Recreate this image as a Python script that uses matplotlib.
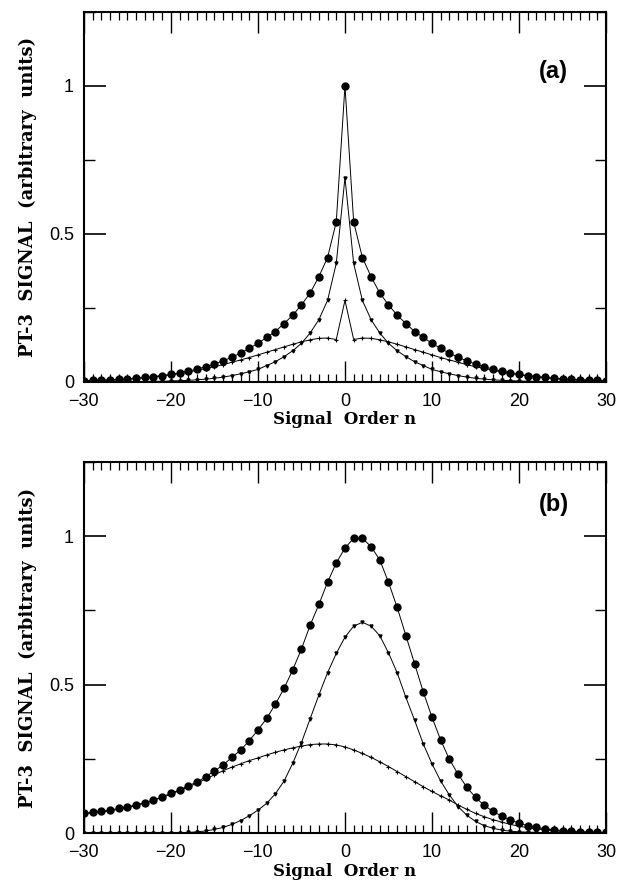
import matplotlib
matplotlib.use('Agg')
import matplotlib.pyplot as plt
import numpy as np
from matplotlib.ticker import MultipleLocator

# signal order axis
n = np.arange(-30, 31)

# --- panel (a): symmetric curves, values read for n = 0..30 ---
a_circ_half = [1.0, 0.54, 0.42, 0.355, 0.30, 0.26, 0.225, 0.197, 0.17, 0.15, 0.13,
               0.113, 0.097, 0.083, 0.071, 0.06, 0.051, 0.043, 0.036, 0.030, 0.025,
               0.021, 0.018, 0.015, 0.012, 0.010, 0.008, 0.007, 0.006, 0.005, 0.004]
a_mid_half = [0.69, 0.40, 0.275, 0.21, 0.165, 0.13, 0.105, 0.085, 0.068, 0.055, 0.042,
              0.034, 0.027, 0.021, 0.016, 0.012, 0.009, 0.007, 0.005, 0.004, 0.003,
              0.002, 0.002, 0.001, 0.001, 0.001, 0.001, 0.0, 0.0, 0.0, 0.0]
a_low_half = [0.275, 0.143, 0.148, 0.147, 0.142, 0.135, 0.127, 0.118, 0.109, 0.100, 0.091,
              0.082, 0.074, 0.066, 0.058, 0.051, 0.045, 0.039, 0.033, 0.028, 0.024,
              0.020, 0.017, 0.014, 0.011, 0.009, 0.007, 0.006, 0.005, 0.004, 0.003]

a_circ = a_circ_half[:0:-1] + a_circ_half
a_mid = a_mid_half[:0:-1] + a_mid_half
a_low = a_low_half[:0:-1] + a_low_half

# --- panel (b): values for n = -30..30 ---
b_circ = [0.066, 0.070, 0.073, 0.077, 0.083, 0.088, 0.095, 0.102, 0.111, 0.122,
          0.134, 0.145, 0.160, 0.171, 0.190, 0.209, 0.229, 0.255, 0.279, 0.311,
          0.347, 0.386, 0.434, 0.487, 0.55, 0.62, 0.70, 0.77, 0.845, 0.91,
          0.96, 0.993, 0.993, 0.965, 0.92, 0.845, 0.76, 0.665, 0.57, 0.475,
          0.39, 0.313, 0.248, 0.198, 0.154, 0.12, 0.093, 0.073, 0.057, 0.044,
          0.033, 0.025, 0.019, 0.014, 0.011, 0.008, 0.006, 0.004, 0.003, 0.002, 0.002]
b_mid = [0.0, 0.0, 0.0, 0.0, 0.0, 0.0, 0.0, 0.0, 0.001, 0.001,
         0.001, 0.001, 0.002, 0.004, 0.007, 0.012, 0.019, 0.029, 0.042, 0.058,
         0.077, 0.10, 0.132, 0.175, 0.235, 0.305, 0.385, 0.465, 0.54, 0.605,
         0.66, 0.697, 0.71, 0.697, 0.665, 0.607, 0.54, 0.457, 0.38, 0.30,
         0.233, 0.175, 0.128, 0.089, 0.06, 0.039, 0.025, 0.016, 0.010, 0.006,
         0.004, 0.003, 0.002, 0.001, 0.001, 0.001, 0.0, 0.0, 0.0, 0.0, 0.0]
b_low = [0.065, 0.068, 0.071, 0.075, 0.080, 0.086, 0.093, 0.101, 0.110, 0.120,
         0.131, 0.143, 0.155, 0.168, 0.182, 0.196, 0.21, 0.222, 0.233, 0.244,
         0.253, 0.263, 0.272, 0.28, 0.287, 0.293, 0.298, 0.30, 0.30, 0.297,
         0.29, 0.28, 0.268, 0.255, 0.24, 0.224, 0.207, 0.19, 0.173, 0.156,
         0.14, 0.125, 0.111, 0.094, 0.08, 0.066, 0.055, 0.045, 0.037, 0.029,
         0.023, 0.018, 0.014, 0.011, 0.008, 0.006, 0.005, 0.004, 0.003, 0.002, 0.002]

xticks = [-30, -20, -10, 0, 10, 20, 30]
yticks = [0, 0.5, 1]
ytick_labels = ['0', '0.5', '1']

fig = plt.figure(figsize=(6.21, 8.88), dpi=100)
ax_a = fig.add_axes([0.135, 0.570, 0.841, 0.4167])
ax_b = fig.add_axes([0.135, 0.0619, 0.841, 0.4178])

panels = [(ax_a, a_circ, a_mid, a_low, '(a)', 0.84),
          (ax_b, b_circ, b_mid, b_low, '(b)', 0.885)]

for ax, circ, mid, low, tag, ty in panels:
    ax.plot(n, circ, '-', color='black', lw=0.7, marker='o', ms=5)
    ax.plot(n, mid, '-', color='black', lw=0.7, marker='v', ms=2.2)
    ax.plot(n, low, '-', color='black', lw=0.7, marker='+', ms=3.5, mew=0.8)

    ax.set_xlim(-30, 30)
    ax.set_ylim(0, 1.25)
    ax.set_xticks(xticks)
    ax.set_xticklabels([str(t).replace('-', '\u2212') for t in xticks])
    ax.xaxis.set_minor_locator(MultipleLocator(1))
    ax.set_yticks(yticks)
    ax.set_yticklabels(ytick_labels)
    ax.yaxis.set_minor_locator(MultipleLocator(0.25))
    ax.tick_params(axis='x', which='major', direction='in', length=15, width=1.0,
                   top=True, bottom=True, labelsize=13, pad=8)
    ax.tick_params(axis='x', which='minor', direction='in', length=6, width=0.9,
                   top=True, bottom=True)
    ax.tick_params(axis='y', which='major', direction='in', length=16, width=1.2,
                   left=True, right=True, labelsize=13, pad=7)
    ax.tick_params(axis='y', which='minor', direction='in', length=8, width=1.0,
                   left=True, right=True)
    for lbl in ax.get_xticklabels() + ax.get_yticklabels():
        lbl.set_family('Liberation Sans')
    for s in ax.spines.values():
        s.set_linewidth(1.5)

    ax.set_xlabel('Signal  Order n', family='DejaVu Serif', fontsize=12,
                  fontweight='bold', labelpad=1)
    ax.set_ylabel('PT-3  SIGNAL  (arbitrary  units)', family='DejaVu Serif',
                  fontsize=13, fontweight='bold', labelpad=9)
    ax.text(0.90, ty, tag, transform=ax.transAxes, ha='center', va='center',
            fontsize=17, fontweight='bold', family='Liberation Sans')

fig.savefig('out.png', dpi=100)
